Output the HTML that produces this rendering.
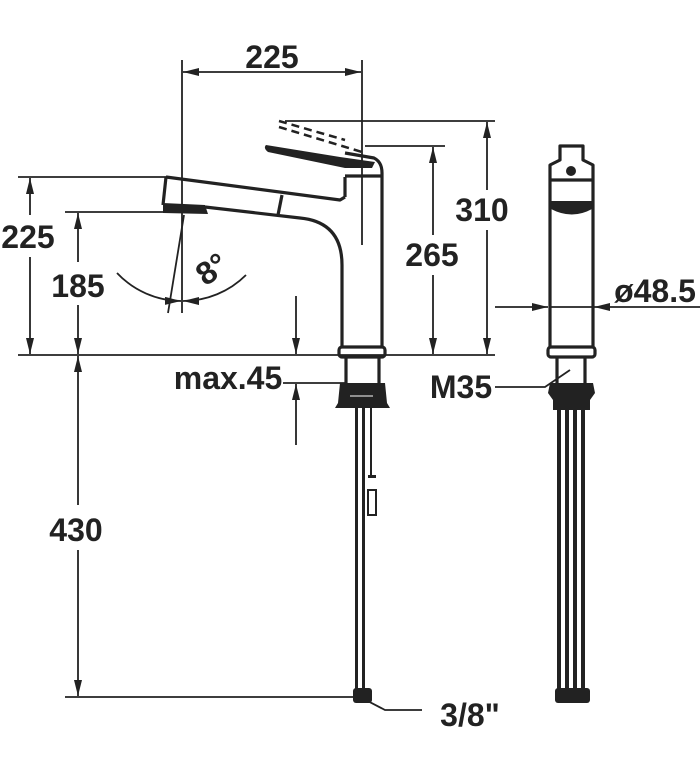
<!DOCTYPE html>
<html><head><meta charset="utf-8"><style>
html,body{margin:0;padding:0;background:#fff;}
svg{display:block;}
text{font-family:"Liberation Sans",Arial,sans-serif;font-weight:bold;font-size:32px;fill:#222;}
</style></head><body>
<svg width="700" height="763" viewBox="0 0 700 763" xmlns="http://www.w3.org/2000/svg">
<defs>
<marker id="a" viewBox="0 0 16 8" refX="16" refY="4" markerWidth="16" markerHeight="8" markerUnits="userSpaceOnUse" orient="auto-start-reverse"><path d="M0,0 L16,4 L0,8 z" fill="#222"/></marker>
</defs>
<g stroke="#222" stroke-width="1.8" fill="none">
<line x1="18" y1="355" x2="495" y2="355"/>
<line x1="182" y1="60" x2="182" y2="313"/>
<line x1="362" y1="60" x2="362" y2="245"/>
<line x1="183" y1="72" x2="361" y2="72" marker-start="url(#a)" marker-end="url(#a)"/>
<line x1="18" y1="177" x2="168" y2="177"/>
<line x1="30" y1="215" x2="30" y2="178" marker-end="url(#a)"/>
<line x1="30" y1="257" x2="30" y2="354" marker-end="url(#a)"/>
<line x1="65" y1="212" x2="165" y2="212"/>
<line x1="78" y1="262" x2="78" y2="213" marker-end="url(#a)"/>
<line x1="78" y1="305" x2="78" y2="354" marker-end="url(#a)"/>
<line x1="285" y1="121" x2="495" y2="121"/>
<line x1="487" y1="190" x2="487" y2="122" marker-end="url(#a)"/>
<line x1="487" y1="230" x2="487" y2="354" marker-end="url(#a)"/>
<line x1="365" y1="146" x2="445" y2="146"/>
<line x1="433" y1="235" x2="433" y2="147" marker-end="url(#a)"/>
<line x1="433" y1="275" x2="433" y2="354" marker-end="url(#a)"/>
<line x1="296" y1="296" x2="296" y2="354" marker-end="url(#a)"/>
<line x1="296" y1="445" x2="296" y2="384" marker-end="url(#a)"/>
<line x1="283" y1="383" x2="345" y2="383"/>
<line x1="65" y1="697" x2="355" y2="697"/>
<line x1="78" y1="505" x2="78" y2="356" marker-end="url(#a)"/>
<line x1="78" y1="550" x2="78" y2="696" marker-end="url(#a)"/>
<polyline points="360,697 385,710 422,710"/>
<line x1="184" y1="215" x2="168" y2="313"/>
<path d="M117,273 A89,89 0 0 0 181,301" marker-end="url(#a)"/>
<path d="M246,275 A89,89 0 0 1 183,301" marker-end="url(#a)"/>
<line x1="495" y1="307" x2="548" y2="307" marker-end="url(#a)"/>
<line x1="700" y1="307" x2="594" y2="307" marker-end="url(#a)"/>
<line x1="550" y1="307" x2="593" y2="307"/>
<polyline points="495,387 545,387 570,370"/>
</g>

<g stroke="#222" stroke-width="3.2" fill="none" stroke-linejoin="round">
<path d="M279,121 L345,140" stroke-dasharray="8,5" stroke-width="2.5"/>
<path d="M279,127 L362,152" stroke-dasharray="8,5" stroke-width="2.5"/>
<path d="M382,173 L382,348"/>
<path d="M342,348 L342,265 Q342,222 300,218 L205,207"/>
<path d="M345,177 L345,197"/>
<path d="M345,153 L374,158 Q382,162 382,173"/>
<line x1="345" y1="176" x2="382" y2="176"/>
<path d="M166,177 L340,200 L345,197"/>
<path d="M166,177 L163,205"/>
<line x1="282" y1="195" x2="278" y2="215"/>
<rect x="339" y="347" width="46" height="10" rx="3"/>
<line x1="346" y1="357" x2="346" y2="383"/>
<line x1="379" y1="357" x2="379" y2="383"/>
</g>
<path d="M163,203 L205,205 L208,214 L163,213 z" fill="#222"/>
<path d="M266,145 L340,157 L375,162 L372,168 L345,168 L268,152 Q263,148 266,145 z" fill="#222"/>
<path d="M340,383 L385,383 L387,403 L390,408 L335,408 L338,403 z" fill="#222"/>
<line x1="350" y1="396" x2="373" y2="396" stroke="#fff" stroke-width="1"/>
<g fill="#222">
<rect x="355" y="408" width="3" height="282"/>
<rect x="362" y="408" width="3" height="282"/>
<rect x="370" y="408" width="2" height="70"/>
<rect x="368" y="475" width="8" height="3"/>
<rect x="368" y="490" width="8" height="25" fill="none" stroke="#222" stroke-width="2"/>
<rect x="353" y="688" width="19" height="15" rx="3"/>
</g>

<g stroke="#222" stroke-width="3.2" fill="none" stroke-linejoin="round">
<path d="M550,347 L550,165 L560,160 L560,146 L583,146 L583,160 L593,165 L593,347"/>
<line x1="550" y1="180" x2="593" y2="180"/>
<rect x="548" y="347" width="47" height="10" rx="3"/>
<line x1="557" y1="357" x2="557" y2="383"/>
<line x1="585" y1="357" x2="585" y2="383"/>
</g>
<circle cx="571" cy="171" r="5" fill="#222"/>
<path d="M551,201 L592,201 L592,209 Q572,220 551,209 z" fill="#222"/>
<path d="M550,383 L593,383 L595,393 L590,400 L590,410 L553,410 L553,400 L548,393 z" fill="#222"/>
<g fill="#222">
<rect x="557" y="408" width="4" height="282"/>
<rect x="565" y="408" width="4" height="282"/>
<rect x="573" y="408" width="4" height="282"/>
<rect x="581" y="408" width="4" height="282"/>
<rect x="555" y="688" width="35" height="15" rx="3"/>
</g>

<text x="272" y="68" text-anchor="middle">225</text>
<text x="28" y="248" text-anchor="middle">225</text>
<text x="78" y="297" text-anchor="middle">185</text>
<text x="482" y="221" text-anchor="middle">310</text>
<text x="432" y="266" text-anchor="middle">265</text>
<text x="228" y="389" text-anchor="middle">max.45</text>
<text x="76" y="541" text-anchor="middle">430</text>
<text x="470" y="726" text-anchor="middle">3/8"</text>
<text x="655" y="302" text-anchor="middle">ø48.5</text>
<text x="461" y="398" text-anchor="middle">M35</text>
<text x="0" y="0" transform="translate(218,278) rotate(-35)" text-anchor="middle">8°</text>
</svg>
</body></html>
